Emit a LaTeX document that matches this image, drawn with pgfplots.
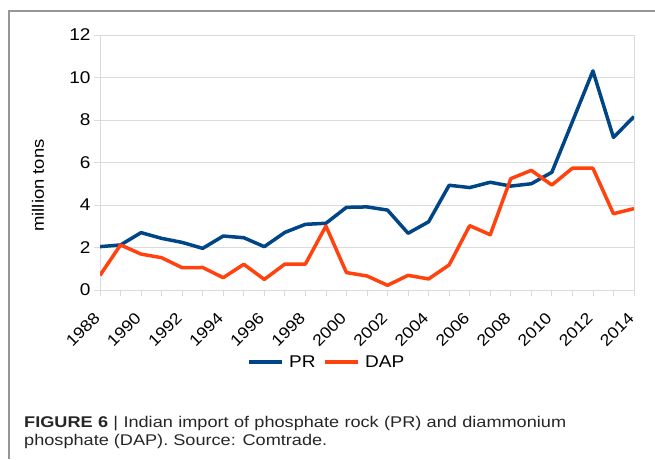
\documentclass[border=0pt]{standalone}
\usepackage{pgfplots}
\pgfplotsset{compat=1.18}
\usepackage{fontspec}
\setmainfont[FakeStretch=1.12]{Liberation Sans}
\newfontfamily\capfont[FakeStretch=1.17]{Liberation Sans}
\definecolor{prblue}{HTML}{004586}
\definecolor{daporange}{HTML}{FF420E}
\definecolor{gridgray}{RGB}{218,218,218}
\definecolor{framegray}{RGB}{150,150,150}
\pgfplotstableread{
year PR DAP
1988 2.04 0.69
1989 2.12 2.12
1990 2.70 1.69
1991 2.43 1.52
1992 2.24 1.05
1993 1.96 1.06
1994 2.54 0.58
1995 2.46 1.21
1996 2.04 0.50
1997 2.71 1.22
1998 3.09 1.22
1999 3.14 3.01
2000 3.89 0.82
2001 3.91 0.66
2002 3.76 0.22
2003 2.67 0.69
2004 3.21 0.52
2005 4.93 1.18
2006 4.82 3.03
2007 5.07 2.60
2008 4.89 5.24
2009 5.00 5.63
2010 5.54 4.94
2011 7.92 5.73
2012 10.31 5.73
2013 7.18 3.59
2014 8.16 3.83
}\datatable
\begin{document}
\begin{tikzpicture}[x=1pt,y=1pt]
\useasboundingbox (0,0) rectangle (655,459);
\draw[framegray, line width=1.2pt] (9,0) -- (9,448) -- (655,448);
\begin{axis}[
  at={(100pt,169pt)}, anchor=south west,
  scale only axis, width=534pt, height=255pt,
  xmin=1988, xmax=2014, ymin=0, ymax=12,
  xtick={1988,1990,...,2014},
  minor xtick={1989,1991,...,2013},
  ytick={0,2,...,12},
  ymajorgrids, grid style={gridgray, line width=0.8pt},
  axis line style={gridgray, line width=0.8pt},
  tick style={gridgray, line width=0.8pt},
  tick align=outside, major tick length=6pt, minor tick length=6pt,
  xtick pos=bottom, ytick pos=left,
  /pgf/number format/1000 sep={},
  /pgf/number format/assume math mode=true,
  ticklabel style={font=\fontsize{16}{18}\selectfont, text=black},
  xticklabel style={rotate=45, anchor=north east, inner sep=0pt, xshift=-16pt, yshift=-6pt},
  yticklabel style={font=\fontsize{17}{19}\selectfont},
  ylabel={million tons},
  ylabel style={font=\fontsize{16.5}{19}\selectfont, at={(axis description cs:-0.116,0.41)}, anchor=center},
  legend style={at={(0.425,-0.282)}, anchor=center, draw=none, legend columns=2,
    font=\fontsize{17}{19}\selectfont, column sep=3pt,
    /tikz/every even column/.append style={column sep=6pt}},
  legend image code/.code={\draw[#1, line width=3.5pt] (0pt,0pt) -- (33pt,0pt);},
]
\addplot[prblue, line width=3.5pt, line join=round] table[x=year, y=PR] {\datatable};
\addlegendentry{PR}
\addplot[daporange, line width=3.5pt, line join=round] table[x=year, y=DAP] {\datatable};
\addlegendentry{DAP}
\end{axis}
\node[anchor=base west, inner sep=0pt, text=black!85] at (24,32) {\capfont\fontsize{15.5}{18}\selectfont\makebox[542pt][s]{\textbf{FIGURE 6} | Indian import of phosphate rock (PR) and diammonium}};
\node[anchor=base west, inner sep=0pt, text=black!85] at (24,14) {\capfont\fontsize{15.5}{18}\selectfont phosphate (DAP). Source: Comtrade.};
\end{tikzpicture}
\end{document}
